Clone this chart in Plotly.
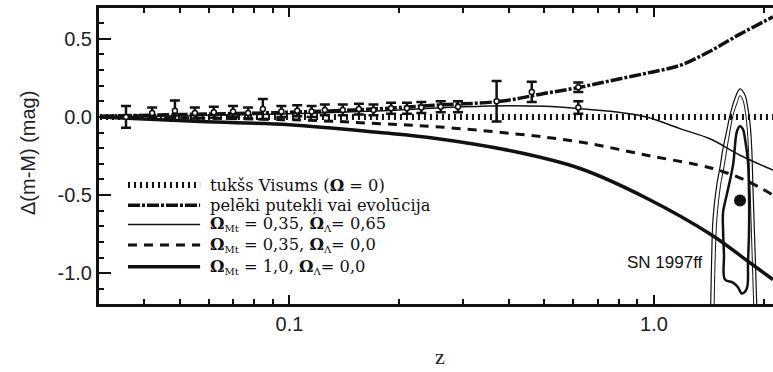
import plotly.graph_objects as go

# ---- model curves: redshift z and magnitude residual relative to the empty universe ----
empty_z = [0.0302, 2.12]
empty_dm = [0.0, 0.0]

dust_z = [0.0302, 0.05, 0.1, 0.177, 0.25, 0.378, 0.5, 0.627, 0.772, 0.955, 1.178, 1.424, 1.722, 2.12]
dust_dm = [0.005, 0.015, 0.03, 0.053, 0.075, 0.10, 0.15, 0.19, 0.235, 0.28, 0.33, 0.42, 0.53, 0.64]

lam_z = [0.0302, 0.1, 0.2, 0.3, 0.4, 0.5, 0.627, 0.8, 0.955, 1.178, 1.424, 1.722, 2.12]
lam_dm = [0.0, 0.02, 0.045, 0.065, 0.072, 0.068, 0.053, 0.03, 0.0, -0.075, -0.14, -0.245, -0.34]

open_z = [0.0302, 0.107, 0.177, 0.25, 0.411, 0.627, 0.955, 1.45, 1.8, 2.12]
open_dm = [0.0, -0.02, -0.043, -0.062, -0.107, -0.16, -0.245, -0.33, -0.41, -0.50]

flat_z = [0.0302, 0.0568, 0.1, 0.177, 0.247, 0.411, 0.627, 0.955, 1.45, 1.8, 2.12]
flat_dm = [0.0, -0.03, -0.05, -0.10, -0.135, -0.22, -0.33, -0.52, -0.76, -0.92, -1.04]

# ---- binned supernova residuals ----
sn_z = [0.0356, 0.042, 0.0485, 0.055, 0.062, 0.07, 0.077, 0.0845, 0.095, 0.105, 0.115,
        0.125, 0.14, 0.155, 0.17, 0.19, 0.21, 0.23, 0.26, 0.29, 0.37, 0.462, 0.62, 0.62]
sn_dm = [0.0, 0.025, 0.04, 0.025, 0.03, 0.035, 0.025, 0.05, 0.035, 0.04, 0.035,
         0.045, 0.045, 0.05, 0.045, 0.055, 0.055, 0.06, 0.065, 0.065, 0.10, 0.16, 0.19, 0.06]
sn_err = [0.07, 0.035, 0.065, 0.035, 0.035, 0.035, 0.035, 0.065, 0.035, 0.035, 0.035,
          0.035, 0.035, 0.035, 0.035, 0.035, 0.035, 0.035, 0.035, 0.035, 0.13, 0.065, 0.03, 0.04]

# ---- SN 1997ff: best fit and likelihood contours ----
ff_z = [1.722]
ff_dm = [-0.535]

outer_z = [1.429, 1.438, 1.452, 1.486, 1.518, 1.547, 1.583, 1.616, 1.668, 1.722,
           1.777, 1.811, 1.834, 1.854, 1.869, 1.893, 1.917]
outer_dm = [-1.26, -0.95, -0.65, -0.44, -0.32, -0.20, -0.09, 0.01, 0.12, 0.18,
            0.14, 0.05, -0.04, -0.20, -0.46, -0.85, -1.26]

middle_z = [1.461, 1.470, 1.488, 1.522, 1.556, 1.586, 1.616, 1.647, 1.690, 1.722,
            1.755, 1.782, 1.800, 1.816, 1.834, 1.857, 1.881]
middle_dm = [-1.26, -0.95, -0.65, -0.44, -0.32, -0.20, -0.09, 0.01, 0.09, 0.137,
             0.105, 0.028, -0.062, -0.20, -0.46, -0.85, -1.26]

inner_z = [1.722, 1.690, 1.647, 1.583, 1.547, 1.547, 1.556, 1.566, 1.647, 1.700,
           1.741, 1.796, 1.811, 1.823, 1.823, 1.811, 1.777, 1.755, 1.722]
inner_dm = [-0.06, -0.09, -0.31, -0.50, -0.61, -0.72, -0.88, -1.04, -1.06, -1.09,
            -1.13, -1.10, -0.93, -0.72, -0.50, -0.29, -0.14, -0.08, -0.06]

# ---- axis ticks ----
x_tickvals = [0.1, 1.0]
x_ticktext = ["0.1", "1.0"]
x_minor = [0.04, 0.05, 0.06, 0.07, 0.08, 0.09, 0.2, 0.3, 0.4, 0.5, 0.6, 0.7, 0.8, 0.9, 2.0]
y_tickvals = [0.5, 0.0, -0.5, -1.0]
y_ticktext = ["0.5", "0.0", "-0.5", "-1.0"]
y_minor = [round(-1.1 + 0.1 * i, 1) for i in range(18)]

SUB_MT = "<sub><span style='font-size:10px'>Mt</span></sub>"
SUB_L = "<sub><span style='font-size:10px'>Λ</span></sub>"
legend_labels = [
    "tukšs Visums (<b>Ω</b> = 0)",
    "pelēki putekļi vai evolūcija",
    f"<b>Ω</b>{SUB_MT} = 0,35, <b>Ω</b>{SUB_L}= 0,65",
    f"<b>Ω</b>{SUB_MT} = 0,35, <b>Ω</b>{SUB_L}= 0,0",
    f"<b>Ω</b>{SUB_MT} = 1,0, <b>Ω</b>{SUB_L}= 0,0",
]

BLACK = "#111111"
styles = [
    dict(width=6, dash="2px,4px"),
    dict(width=3.5, dash="12px,2px,3px,2px"),
    dict(width=1.5, dash="solid"),
    dict(width=3, dash="9px,7px"),
    dict(width=3.5, dash="solid"),
]

fig = go.Figure()

curves = [(empty_z, empty_dm), (dust_z, dust_dm), (lam_z, lam_dm), (open_z, open_dm), (flat_z, flat_dm)]
for (cz, cdm), st in zip(curves, styles):
    fig.add_trace(go.Scatter(x=cz, y=cdm, mode="lines", line=dict(color=BLACK, shape="spline", **st),
                             showlegend=False, hoverinfo="skip"))

fig.add_trace(go.Scatter(
    x=sn_z, y=sn_dm, mode="markers",
    marker=dict(symbol="circle", size=5, color="white", line=dict(color=BLACK, width=1.5)),
    error_y=dict(type="data", array=sn_err, color=BLACK, thickness=2.5, width=5),
    showlegend=False, hoverinfo="skip"))

for cz, cdm, w in [(outer_z, outer_dm, 1.2), (middle_z, middle_dm, 1.0), (inner_z, inner_dm, 2.5)]:
    fig.add_trace(go.Scatter(x=cz, y=cdm, mode="lines", line=dict(color=BLACK, width=w, shape="spline"),
                             showlegend=False, hoverinfo="skip"))

fig.add_trace(go.Scatter(x=ff_z, y=ff_dm, mode="markers", marker=dict(size=12, color=BLACK),
                         showlegend=False, hoverinfo="skip"))

# legend key lines and labels
row_y = [0.402, 0.334, 0.269, 0.199, 0.126]
for yy, st, lab in zip(row_y, styles, legend_labels):
    fig.add_shape(type="line", xref="paper", yref="paper", x0=0.043, x1=0.150, y0=yy, y1=yy,
                  line=dict(color=BLACK, width=st["width"], dash=st["dash"]))
    fig.add_annotation(text=lab, xref="paper", yref="paper", x=0.162, y=yy, xanchor="left",
                       yanchor="middle", showarrow=False,
                       font=dict(family="DejaVu Serif", size=16.3, color=BLACK))

fig.add_annotation(text="SN 1997ff", xref="paper", yref="paper", x=(705 - 99) / 674, y=(304 - 262) / 296,
                   xanchor="right", yanchor="middle", showarrow=False,
                   font=dict(family="Liberation Sans", size=17, color=BLACK))

fig.add_annotation(text="Δ(m-M) (mag)", xref="paper", yref="paper", x=(28 - 99) / 674, y=0.51,
                   xanchor="center", yanchor="middle", textangle=-90, showarrow=False,
                   font=dict(family="Liberation Sans", size=20, color="#222222"))
fig.add_annotation(text="z", xref="paper", yref="paper", x=(440 - 99) / 674, y=-(357 - 304) / 296,
                   xanchor="center", yanchor="middle", showarrow=False,
                   font=dict(family="Liberation Serif", size=22, color="#222222"))

fig.update_layout(
    width=773, height=372,
    margin=dict(l=99, r=0, t=8, b=68),
    paper_bgcolor="white", plot_bgcolor="white",
    font=dict(family="Liberation Sans", color="#222222"),
    xaxis=dict(type="log", range=[-1.5226, 0.3265], showgrid=False, zeroline=False,
               showline=True, linewidth=3, linecolor=BLACK, mirror="allticks",
               ticks="inside", ticklen=9, tickwidth=2, tickcolor=BLACK,
               tickmode="array", tickvals=x_tickvals, ticktext=x_ticktext,
               tickfont=dict(size=20, family="Liberation Sans", color="#222222"),
               minor=dict(tickmode="array", tickvals=x_minor, ticks="inside", ticklen=5,
                          tickwidth=2, tickcolor=BLACK, showgrid=False)),
    yaxis=dict(range=[-1.197, 0.697], showgrid=False, zeroline=False,
               showline=True, linewidth=3, linecolor=BLACK, mirror=False,
               ticks="inside", ticklen=12, tickwidth=2, tickcolor=BLACK,
               tickmode="array", tickvals=y_tickvals, ticktext=y_ticktext,
               tickfont=dict(size=20, family="Liberation Sans", color="#222222"),
               minor=dict(tickmode="array", tickvals=y_minor, ticks="inside", ticklen=5,
                          tickwidth=2, tickcolor=BLACK, showgrid=False)),
)

fig.write_html("out.html")
